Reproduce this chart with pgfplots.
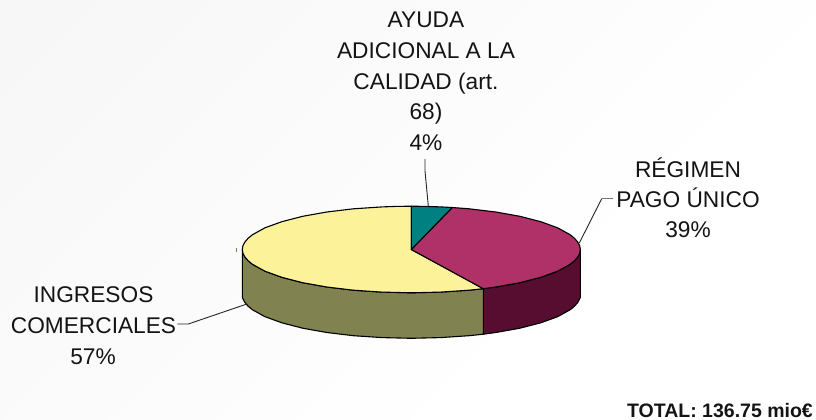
\documentclass[border=0pt]{standalone}
\usepackage{pgfplots}
\usepackage{fontspec}
\setmainfont{Liberation Sans}
\pgfplotsset{compat=1.18}
\definecolor{cTeal}{HTML}{008080}
\definecolor{cMag}{HTML}{B03068}
\definecolor{cDark}{HTML}{560D2F}
\definecolor{cYel}{HTML}{FCF29A}
\definecolor{cOli}{HTML}{808250}
\tikzset{lbl/.style={anchor=base, inner sep=0pt, font=\fontsize{22.7}{26}\selectfont, text=black!92}}
\begin{document}
\begin{tikzpicture}
\begin{axis}[
  scale only axis, width=816pt, height=420pt,
  xmin=0, xmax=816, ymin=0, ymax=420, y dir=reverse,
  hide axis, clip mode=individual,
]
% faint diagonal banded background
\addplot[fill=black!3.2, draw=none] coordinates {(0,0)(816,0)(816,420)(0,420)} --cycle;
\addplot[fill=black!2.8, draw=none] coordinates {(103,0)(1300,0)(1300,420)(-317,420)} --cycle;
\addplot[fill=black!2.4, draw=none] coordinates {(213,0)(1300,0)(1300,420)(-207,420)} --cycle;
\addplot[fill=black!2.0, draw=none] coordinates {(318,0)(1300,0)(1300,420)(-102,420)} --cycle;
\addplot[fill=black!1.6, draw=none] coordinates {(423,0)(1300,0)(1300,420)(3,420)} --cycle;
\addplot[fill=black!1.2, draw=none] coordinates {(528,0)(1300,0)(1300,420)(108,420)} --cycle;
\addplot[fill=black!0.8, draw=none] coordinates {(633,0)(1300,0)(1300,420)(213,420)} --cycle;
\addplot[fill=black!0.4, draw=none] coordinates {(716,0)(1300,0)(1300,420)(296,420)} --cycle;
\addplot[fill=white, draw=none] coordinates {(830,0)(1300,0)(1300,420)(410,420)} --cycle;
% side walls
\addplot[fill=cDark, draw=black, line width=1.1pt, line join=round] coordinates {
 (580.3,249.5)(579.7,253.3)(577.7,257.0)(574.5,260.7)(570.1,264.3)(557.6,271.2)(540.8,277.3)(519.9,282.7)(495.8,287.0)(483.3,288.7)
 (483.3,334.2)(495.8,332.5)(519.9,328.2)(540.8,322.8)(557.6,316.7)(570.1,309.8)(574.5,306.2)(577.7,302.5)(579.7,298.8)(580.3,297.5)} --cycle;
\addplot[fill=cOli, draw=black, line width=1.1pt, line join=round] coordinates {
 (483.3,288.7)(469.1,290.2)(440.6,292.1)(411.3,292.8)(382.0,292.1)(353.5,290.2)(326.8,287.0)(302.7,282.7)(281.8,277.3)(265.0,271.2)(252.5,264.3)(248.1,260.7)(244.9,257.0)(242.9,253.3)(242.3,249.5)
 (242.3,297.5)(242.9,298.8)(244.9,302.5)(248.1,306.2)(252.5,309.8)(265.0,316.7)(281.8,322.8)(302.7,328.2)(326.8,332.5)(353.5,335.7)(382.0,337.6)(411.3,338.3)(440.6,337.6)(469.1,335.7)(483.3,334.2)} --cycle;
% top face
\addplot[fill=cYel, draw=black, line width=1.1pt, line join=round] coordinates {
 (411.3,249.5)(483.3,288.7)(469.1,290.2)(440.6,292.1)(411.3,292.8)(382.0,292.1)(353.5,290.2)(326.8,287.0)(302.7,282.7)(281.8,277.3)(265.0,271.2)(252.5,264.3)(248.1,260.7)(244.9,257.0)(242.9,253.3)(242.3,249.5)(242.9,245.7)(244.9,242.0)(248.1,238.3)(252.5,234.7)(265.0,227.8)(281.8,221.7)(302.7,216.3)(326.8,212.0)(353.5,208.8)(382.0,206.9)(396.6,206.4)(411.3,206.2)} --cycle;
\addplot[fill=cMag, draw=black, line width=1.1pt, line join=round] coordinates {
 (411.3,249.5)(452.2,207.5)(469.1,208.8)(495.8,212.0)(519.9,216.3)(540.8,221.7)(557.6,227.8)(570.1,234.7)(574.5,238.3)(577.7,242.0)(579.7,245.7)(580.3,249.5)(579.7,253.3)(577.7,257.0)(574.5,260.7)(570.1,264.3)(557.6,271.2)(540.8,277.3)(519.9,282.7)(495.8,287.0)(483.3,288.7)} --cycle;
\addplot[fill=cTeal, draw=black, line width=1.1pt, line join=round] coordinates {
 (411.3,249.5)(411.3,206.2)(426.0,206.4)(440.6,206.9)(452.2,207.5)} --cycle;
% leader lines
\addplot[draw=black!85, line width=0.9pt] coordinates {(425,159)(425,171)(428.3,206)};
\addplot[draw=black!85, line width=0.9pt] coordinates {(601.7,198.7)(579.3,243)};
\addplot[draw=black!55, line width=1pt] coordinates {(613.3,198.7)(601.7,198.7)};
\addplot[draw=black!85, line width=0.9pt] coordinates {(177.3,324)(188.3,324)(246,304.3)};
\addplot[draw=cOli, line width=0.8pt] coordinates {(236.5,248)(236.5,252)};
% labels
\node[lbl] at (axis cs:426,28) {AYUDA};
\node[lbl] at (axis cs:426,58.3) {ADICIONAL A LA};
\node[lbl] at (axis cs:426,89) {CALIDAD (art.};
\node[lbl] at (axis cs:426,119) {68)};
\node[lbl] at (axis cs:426,150) {4\%};
\node[lbl] at (axis cs:688,177.3) {RÉGIMEN};
\node[lbl] at (axis cs:688,207.3) {PAGO ÚNICO};
\node[lbl] at (axis cs:688,237.7) {39\%};
\node[lbl] at (axis cs:93.5,302.7) {INGRESOS};
\node[lbl] at (axis cs:93.5,333.3) {COMERCIALES};
\node[lbl] at (axis cs:93,364.3) {57\%};
\node[anchor=base east, inner sep=0pt, font=\fontsize{19.5}{22}\selectfont\bfseries, text=black!92] at (axis cs:813,417) {TOTAL: 136.75 mio€};
\end{axis}
\end{tikzpicture}
\end{document}
